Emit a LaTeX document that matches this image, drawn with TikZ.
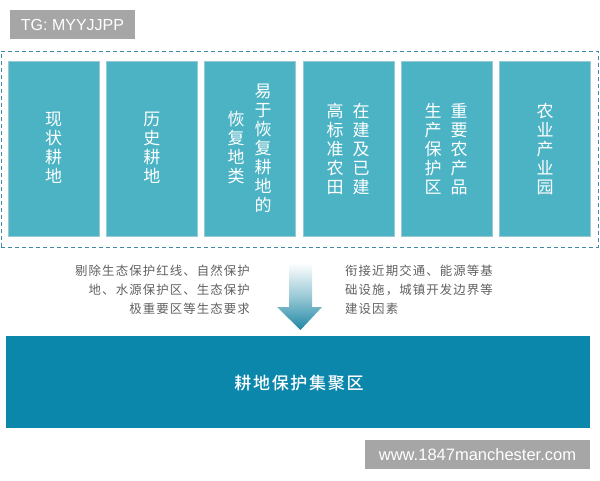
\documentclass[tikz,border=0pt]{standalone}
\usepackage{fontspec}
\setmainfont{Liberation Sans}
\newfontfamily\cjk{Noto Sans CJK SC}
\newfontfamily\cjksp[LetterSpace=9]{Noto Sans CJK SC}
\newfontfamily\cjkbold[LetterSpace=10]{Noto Sans CJK SC Medium}
\usetikzlibrary{positioning}
\definecolor{colfill}{HTML}{4BB3C4}
\definecolor{coledge}{HTML}{9AC9D3}
\definecolor{barfill}{HTML}{0B87AC}
\definecolor{dashc}{HTML}{3E8CA8}
\definecolor{tagfill}{HTML}{A6A6A6}
\definecolor{notec}{HTML}{606060}
\definecolor{arrowc}{HTML}{1E86A4}
\tikzset{
  colbox/.style={fill=colfill, draw=coledge, line width=0.6pt, minimum width=91pt, minimum height=175pt, inner sep=0pt},
  vtext/.style={text=white, font=\cjk\fontsize{17}{19}\selectfont, align=center, inner sep=0pt},
  note/.style={text=notec, font=\cjksp\fontsize{12.4}{19}\selectfont, inner sep=0pt},
  tag/.style={fill=tagfill, text=white, inner sep=0pt, font=\fontsize{16}{18}\selectfont},
}
\begin{document}
\begin{tikzpicture}[x=1pt,y=-1pt]
\useasboundingbox (0,0) rectangle (600,480);
% tag
\node[tag, minimum width=125pt, minimum height=29pt] (tg) at (72.5,24.5) {TG: MYYJJPP};
% dashed frame
\node[draw=dashc, dash pattern=on 4pt off 3pt, line width=1pt, minimum width=597pt, minimum height=196pt, inner sep=0pt] (frame) at (299.5,149) {};
% columns
\node[colbox] (c1) at (53.5,148.5) {};
\node[colbox] (c2) at (151.75,148.5) {};
\node[colbox] (c3) at (250,148.5) {};
\node[colbox] (c4) at (348.5,148.5) {};
\node[colbox] (c5) at (446.5,148.5) {};
\node[colbox] (c6) at (545,148.5) {};
% column texts
\node[vtext] (t1) at (53.5,148) {现\\状\\耕\\地};
\node[vtext] (t2) at (151.75,148) {历\\史\\耕\\地};
\node[vtext] (t3a) at (263,148) {易\\于\\恢\\复\\耕\\地\\的};
\node[vtext] (t3b) at (236,148) {恢\\复\\地\\类};
\node[vtext] (t4a) at (361,149) {在\\建\\及\\已\\建};
\node[vtext] (t4b) at (335,149) {高\\标\\准\\农\\田};
\node[vtext] (t5a) at (459,149) {重\\要\\农\\产\\品};
\node[vtext] (t5b) at (433,149) {生\\产\\保\\护\\区};
\node[vtext] (t6) at (545,149) {农\\业\\产\\业\\园};
% notes
\node[note, anchor=east, align=right] (nl) at (250,290) {剔除生态保护红线、自然保护\\地、水源保护区、生态保护\\极重要区等生态要求};
\node[note, anchor=west, align=left] (nr) at (345,290) {衔接近期交通、能源等基\\础设施，城镇开发边界等\\建设因素};
% arrow
\shade[top color=white, bottom color=arrowc, middle color=arrowc!45]
  (289,263) -- (312,263) -- (312,307) -- (322,307) -- (300.5,330) -- (277,307) -- (289,307) -- cycle;
% bottom bar
\node[fill=barfill, minimum width=584pt, minimum height=92pt, inner sep=0pt] (bar) at (298,382) {};
\node[text=white, font=\cjkbold\fontsize{17}{19}\selectfont, inner sep=0pt] (bartext) at (299,383) {耕地保护集聚区};
% watermark
\node[tag, minimum width=225pt, minimum height=29pt, font=\fontsize{16.5}{18}\selectfont] (wm) at (477.5,454.5) {www.1847manchester.com};
\end{tikzpicture}
\end{document}
